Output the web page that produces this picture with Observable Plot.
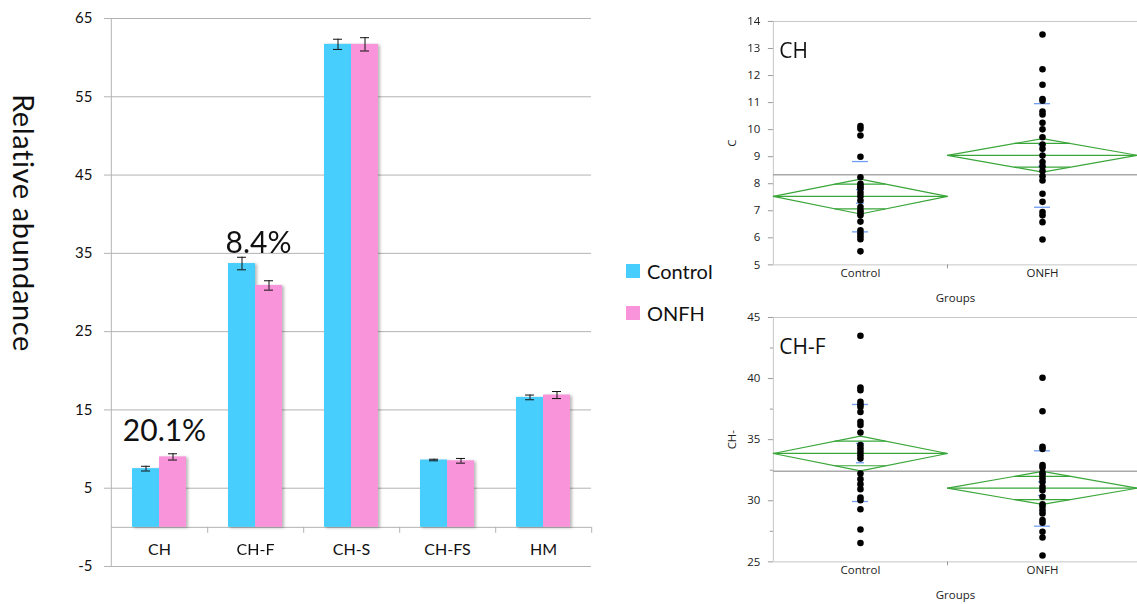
<!DOCTYPE html>
<html>
<head>
<meta charset="utf-8">
<script src="https://cdn.jsdelivr.net/npm/d3@7"></script>
<script src="https://cdn.jsdelivr.net/npm/@observablehq/plot@0.6"></script>
<style>
html,body{margin:0;padding:0;background:#fff;overflow:hidden;width:1137px;height:604px}
#wrap{position:relative;width:1137px;height:604px}
.abs{position:absolute}
#ylab{left:6px;top:73px;width:36px;height:300px;writing-mode:vertical-rl;text-align:center;font-family:Lato,sans-serif;font-size:29px;letter-spacing:0.6px;color:#111;line-height:36px}
.leg{font-family:Lato,sans-serif;font-size:20px;color:#111;display:flex;align-items:center;height:24px}
.sw{width:14px;height:14px;margin-right:7px}
g[aria-label="bar"]{filter:drop-shadow(2px 1px 1.5px rgba(0,0,0,0.28))}
</style>
</head>
<body>
<div id="wrap">
  <div id="bars" class="abs" style="left:0;top:0"></div>
  <div id="ylab" class="abs">Relative abundance</div>
  <div id="legend" class="abs" style="left:626px;top:259px"></div>
  <div id="jmp2" class="abs" style="left:720px;top:300px"></div>
  <div id="jmp1" class="abs" style="left:720px;top:0"></div>
</div>
<script>
// ---------- Bar chart data ----------
const categories = ["CH", "CH-F", "CH-S", "CH-FS", "HM"];
const groups = ["Control", "ONFH"];
const controlMean = [7.5, 33.7, 61.7, 8.6, 16.6];
const controlErr  = [0.3, 0.8, 0.65, 0.1, 0.3];
const onfhMean    = [9.0, 30.9, 61.7, 8.5, 16.9];
const onfhErr     = [0.4, 0.6, 0.85, 0.3, 0.45];
const yTicks = [-5, 5, 15, 25, 35, 45, 55, 65];
const annotCategories = ["CH", "CH-F"];
const annotTexts = ["20.1%", "8.4%"];
const groupColors = ["#48CEFD", "#F994DB"];

// ---------- JMP panel data ----------
const groupN = [22, 24];
const chControl = [10.13, 10.03, 9.78, 9.0, 8.24, 8.0, 7.91, 7.82, 7.67, 7.54, 7.38, 7.14, 7.01, 6.92, 6.83, 6.6, 6.28, 6.16, 6.06, 5.95, 5.5];
const chOnfh = [13.52, 12.23, 11.66, 11.13, 11.07, 10.67, 10.56, 10.25, 10.01, 9.72, 9.45, 9.29, 9.04, 8.8, 8.64, 8.47, 8.28, 8.12, 7.63, 7.33, 6.95, 6.83, 6.58, 5.94];
const chMean = [7.53, 9.05], chCiLo = [6.88, 8.43], chCiHi = [8.17, 9.67];
const chSdLo = [6.22, 7.13], chSdHi = [8.82, 10.96], chSeLo = [7.28, 8.65], chSeHi = [7.78, 9.45];
const chGrand = 8.33;

const chfControl = [43.5, 39.27, 39.05, 38.1, 37.88, 37.68, 37.27, 36.46, 36.19, 35.59, 34.55, 34.28, 34.0, 33.73, 33.46, 32.23, 31.77, 31.36, 30.95, 30.27, 30.05, 29.31, 27.65, 26.55];
const chfOnfh = [40.06, 37.33, 34.42, 34.23, 32.92, 32.73, 32.29, 32.1, 31.83, 31.55, 31.14, 30.87, 30.32, 29.72, 29.51, 29.23, 28.96, 28.42, 28.2, 27.46, 27.0, 25.52];
const chfMean = [33.87, 31.03], chfCiLo = [32.45, 29.70], chfCiHi = [35.29, 32.40];
const chfSdLo = [29.94, 27.92], chfSdHi = [37.88, 34.09], chfSeLo = [33.11, 30.43], chfSeHi = [34.69, 31.55];
const chfGrand = 32.42;

// ---------- Bar chart ----------
const rows = categories.flatMap((c, i) => [
  {category: c, group: "Control", value: controlMean[i], err: controlErr[i]},
  {category: c, group: "ONFH", value: onfhMean[i], err: onfhErr[i]}
]);
const annRows = annotCategories.map((c, i) => ({
  category: c, text: annotTexts[i],
  top: d3.max(rows.filter(r => r.category === c), r => r.value + r.err)
}));

const W = 600, H = 604, mL = 110, mR = 8, mT = 18, mB = 38;
const yDom = [-5, 65];
const halfFacet = (W - mL - mR) / categories.length / 2;
const baseOffset = (0 - yDom[0]) / (yDom[1] - yDom[0]) * (H - mT - mB);
const gray = "#b3b3b3";

const bar = Plot.plot({
  width: W, height: H, marginLeft: mL, marginRight: mR, marginTop: mT, marginBottom: mB,
  style: {fontFamily: "Lato, sans-serif", color: "#111", background: "transparent"},
  fx: {domain: categories, padding: 0, axis: null},
  x: {domain: groups, paddingInner: 0, paddingOuter: 0.74, axis: null},
  y: {domain: yDom, axis: null},
  color: {domain: groups, range: groupColors},
  marks: [
    Plot.ruleY(yTicks, {stroke: gray}),
    Plot.ruleY([0], {stroke: gray}),
    Plot.axisY({ticks: yTicks, tickSize: 7, tickPadding: 12, tickFormat: d => String(d), stroke: gray, fill: "#111", fontSize: 15, label: null}),
    Plot.gridFx({ticks: [categories[0]], dx: -halfFacet, stroke: gray, strokeOpacity: 1}),
    Plot.axisFx({anchor: "bottom", tickSize: 6, tickFormat: () => "", dx: halfFacet, dy: -baseOffset, stroke: gray, label: null}),
    Plot.barY(rows, {fx: "category", x: "group", y: "value", fill: "group"}),
    Plot.ruleX(rows, {fx: "category", x: "group", y1: d => d.value - d.err, y2: d => d.value + d.err, stroke: "#111"}),
    Plot.tickY(rows, {fx: "category", x: "group", y: d => d.value - d.err, inset: 9, stroke: "#111"}),
    Plot.tickY(rows, {fx: "category", x: "group", y: d => d.value + d.err, inset: 9, stroke: "#111"}),
    Plot.text(categories, {fx: d => d, text: d => d, frameAnchor: "bottom", dy: -12, fontSize: 16, fill: "#111"}),
    Plot.text([annRows[0]], {fx: "category", y: "top", text: "text", lineAnchor: "bottom", dy: -13, dx: 5, fontSize: 30, fill: "#111"}),
    Plot.text([annRows[1]], {fx: "category", y: "top", text: "text", lineAnchor: "bottom", dy: -4, dx: 3, fontSize: 30, fill: "#111"})
  ]
});
document.getElementById("bars").append(bar);

// legend
const leg = document.getElementById("legend");
groups.forEach((g, i) => {
  const row = document.createElement("div");
  row.className = "leg";
  row.style.marginBottom = i === 0 ? "18px" : "0";
  row.innerHTML = `<div class="sw" style="background:${groupColors[i]}"></div><span>${g}</span>`;
  leg.append(row);
});

// ---------- JMP style panels ----------
const xStart = [0, groupN[0]];
const xEnd = [groupN[0], groupN[0] + groupN[1]];
const xCenter = xStart.map((s, i) => (s + xEnd[i]) / 2);
const green = "#3aa63a", blue = "#6f9ef2", frameGray = "#c6c6c6";

function jmpPanel({values, mean, ciLo, ciHi, sdLo, sdHi, seLo, seHi, grand, yDomain, ticks, minor, ylabel, title, height, marginTop, marginBottom, labelOffset}) {
  const stats = groups.map((g, i) => ({group: g, x0: xStart[i], x1: xEnd[i], xc: xCenter[i],
    mean: mean[i], ciLo: ciLo[i], ciHi: ciHi[i], sdLo: sdLo[i], sdHi: sdHi[i], seLo: seLo[i], seHi: seHi[i]}));
  const diamond = stats.flatMap(s => [
    {group: s.group, x: s.x0, y: s.mean}, {group: s.group, x: s.xc, y: s.ciHi},
    {group: s.group, x: s.x1, y: s.mean}, {group: s.group, x: s.xc, y: s.ciLo},
    {group: s.group, x: s.x0, y: s.mean}
  ]);
  const k = Math.SQRT1_2;
  const overlap = stats.flatMap(s => {
    const half = (1 - k) * (s.xc - s.x0);
    return [
      {y: s.mean + k * (s.ciHi - s.mean), x1: s.xc - half, x2: s.xc + half},
      {y: s.mean - k * (s.mean - s.ciLo), x1: s.xc - half, x2: s.xc + half}
    ];
  });
  const sdRows = stats.flatMap(s => [{xc: s.xc, y: s.sdLo}, {xc: s.xc, y: s.sdHi}]);
  const seRows = stats.flatMap(s => [{xc: s.xc, y: s.seLo}, {xc: s.xc, y: s.seHi}]);
  const pts = groups.flatMap((g, i) => values[i].map(v => ({x: xCenter[i], y: v})));
  return Plot.plot({
    width: 418, height, marginLeft: 53, marginRight: 0, marginTop, marginBottom,
    style: {fontFamily: "'Open Sans', sans-serif", fontSize: "11.5px", color: "#222", background: "transparent", overflow: "visible"},
    x: {domain: [0, xEnd[1]]},
    y: {domain: yDomain},
    marks: [
      Plot.ruleY([yDomain[1]], {stroke: frameGray}),
      Plot.ruleY([yDomain[0]], {stroke: frameGray}),
      Plot.ruleX([0], {stroke: frameGray}),
      Plot.ruleY([grand], {stroke: "#a9a9a9", strokeWidth: 1.5}),
      Plot.line(diamond, {x: "x", y: "y", z: "group", stroke: green, strokeWidth: 1.2}),
      Plot.ruleY(stats, {y: "mean", x1: "x0", x2: "x1", stroke: green, strokeWidth: 1.2}),
      Plot.ruleY(overlap, {y: "y", x1: "x1", x2: "x2", stroke: green, strokeWidth: 1.2}),
      Plot.ruleY(sdRows, {y: "y", x1: "xc", x2: "xc", insetLeft: -8, insetRight: -8, stroke: blue, strokeWidth: 1.3}),
      Plot.ruleY(seRows, {y: "y", x1: "xc", x2: "xc", insetLeft: -4, insetRight: -4, stroke: blue, strokeWidth: 1.3}),
      Plot.ruleX(stats, {x: "xc", y1: "seLo", y2: "seHi", stroke: blue, strokeWidth: 1.3}),
      Plot.dot(pts, {x: "x", y: "y", r: 3.3, fill: "black", stroke: "none"}),
      Plot.axisY({ticks, tickSize: 5, tickPadding: 8, stroke: "#999", fill: "#222", label: ylabel, labelAnchor: "center", labelArrow: "none", labelOffset: 46}),
      ...(minor ? [Plot.axisY({ticks: minor, tickSize: 3, tickFormat: () => "", stroke: "#999", label: null})] : []),
      Plot.axisX({ticks: xCenter, tickSize: 0, tickPadding: 4, tickFormat: d => groups[xCenter.indexOf(d)], fill: "#222", label: "Groups", labelAnchor: "center", labelArrow: "none", labelOffset}),
      Plot.axisX({ticks: [xEnd[0]], tickSize: 4, tickFormat: () => "", stroke: "#999", label: null}),
      Plot.text([title], {frameAnchor: "top-left", text: d => d, dx: 6, dy: 30, lineAnchor: "middle", fontSize: 21, fill: "#111"})
    ]
  });
}

document.getElementById("jmp1").append(jmpPanel({
  values: [chControl, chOnfh], mean: chMean, ciLo: chCiLo, ciHi: chCiHi, sdLo: chSdLo, sdHi: chSdHi,
  seLo: chSeLo, seHi: chSeHi, grand: chGrand, yDomain: [5, 14], ticks: d3.range(5, 15), minor: null,
  ylabel: "C", title: "CH", height: 305, marginTop: 21, marginBottom: 40, labelOffset: 37
}));
document.getElementById("jmp2").append(jmpPanel({
  values: [chfControl, chfOnfh], mean: chfMean, ciLo: chfCiLo, ciHi: chfCiHi, sdLo: chfSdLo, sdHi: chfSdHi,
  seLo: chfSeLo, seHi: chfSeHi, grand: chfGrand, yDomain: [25, 45], ticks: [25, 30, 35, 40, 45], minor: [27.5, 32.5, 37.5, 42.5],
  ylabel: "CH-", title: "CH-F", height: 304, marginTop: 17, marginBottom: 42, labelOffset: 37
}));
</script>
</body>
</html>
